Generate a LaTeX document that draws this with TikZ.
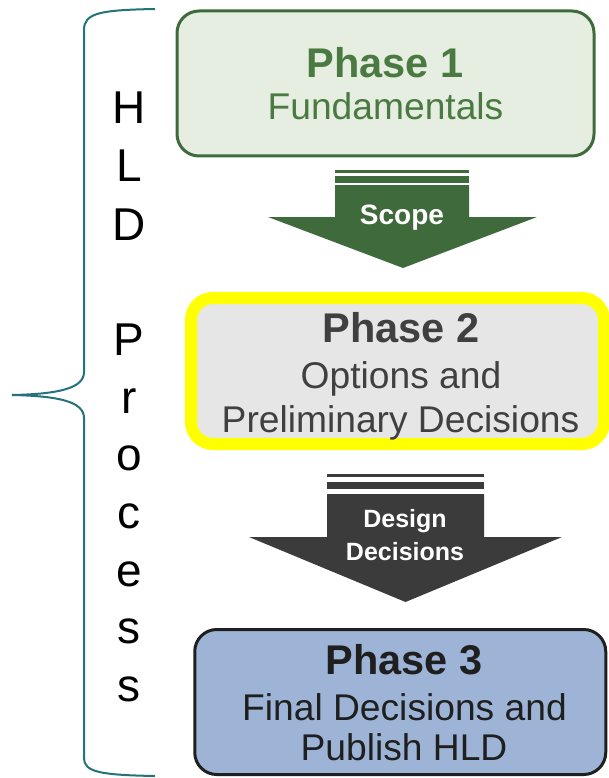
\documentclass[tikz,border=0pt]{standalone}
\usepackage{fontspec}
\setmainfont{Liberation Sans}
\definecolor{gfill}{HTML}{E5EEE0}
\definecolor{gdark}{HTML}{3E6A3C}
\definecolor{gtext}{HTML}{4A7A42}
\definecolor{yel}{HTML}{FFFF00}
\definecolor{grfill}{HTML}{E6E6E6}
\definecolor{grtext}{HTML}{404040}
\definecolor{darr}{HTML}{3B3B3B}
\definecolor{bfill}{HTML}{9DB4D7}
\definecolor{bdark}{HTML}{1F1F1F}
\definecolor{teal}{HTML}{24727A}
\begin{document}
\begin{tikzpicture}[x=1pt,y=-1pt,
  phasebox/.style={rounded corners=22pt, inner sep=0pt},
  title/.style={anchor=base, inner sep=0pt, font=\fontsize{41.5}{41.5}\selectfont\bfseries},
  body/.style={anchor=base, inner sep=0pt, font=\fontsize{37.2}{37.2}\selectfont},
  arrlabel/.style={anchor=base, inner sep=0pt, text=white, font=\fontsize{25}{25}\selectfont\bfseries},
  vletter/.style={anchor=base, inner sep=0pt, font=\fontsize{46}{46}\selectfont}]
\useasboundingbox (0,0) rectangle (609,778);
% Phase boxes
\node[phasebox, draw=gdark, fill=gfill, line width=3pt, minimum width=417pt, minimum height=145pt] (p1) at (385.5,83.5) {};
\node[phasebox, draw=yel, fill=grfill, line width=12pt, minimum width=413pt, minimum height=146pt] (p2) at (397.5,371) {};
\node[phasebox, draw=bdark, fill=bfill, line width=3pt, minimum width=411pt, minimum height=145pt] (p3) at (400.25,702) {};
% Texts
\node[title, text=gtext] (t1a) at (385,78) {Phase 1};
\node[body, text=gtext] (t1b) at (385.5,120) {Fundamentals};
\node[title, text=grtext] (t2a) at (401,342) {Phase 2};
\node[body, text=grtext] (t2b) at (401,388) {Options and};
\node[body, text=grtext] (t2c) at (400.5,432) {Preliminary Decisions};
\node[title, text=bdark] (t3a) at (404,674) {Phase 3};
\node[body, text=bdark] (t3b) at (404.5,720) {Final Decisions and};
\node[body, text=bdark] (t3c) at (404,760) {Publish HLD};
% Arrow 1 (Scope)
\fill[gdark] (335,170) rectangle (469,173);
\fill[gdark] (335,176) rectangle (469,183);
\fill[gdark] (335,185) -- (469,185) -- (469,217) -- (537,217) -- (403,268) -- (268,217) -- (335,217) -- cycle;
\node[arrlabel, font=\fontsize{28}{28}\selectfont\bfseries] (a1) at (402,224) {Scope};
% Arrow 2 (Design Decisions)
\fill[darr] (327,474) rectangle (484,477);
\fill[darr] (327,482) rectangle (484,489);
\fill[darr] (327,494) -- (484,494) -- (484,537) -- (562,537) -- (405.5,602) -- (249,537) -- (327,537) -- cycle;
\node[arrlabel] (a2a) at (405,527) {Design};
\node[arrlabel] (a2b) at (405,560) {Decisions};
% Brace
\draw[teal, line width=2pt] (155,9) .. controls (100,10) and (84,13) .. (84,30) -- (84,372)
  .. controls (84,388) and (60,394) .. (12,395)
  .. controls (60,396) and (84,402) .. (84,418) -- (84,758)
  .. controls (84,772) and (100,775) .. (155,776);
% HLD Process letters
\foreach \l/\y [count=\i] in {H/124,L/182,D/240,P/355,r/413,o/470,c/528,e/586,s/643,s/701}
  \node[vletter] (v\i) at (129,\y) {\l};
\end{tikzpicture}
\end{document}
